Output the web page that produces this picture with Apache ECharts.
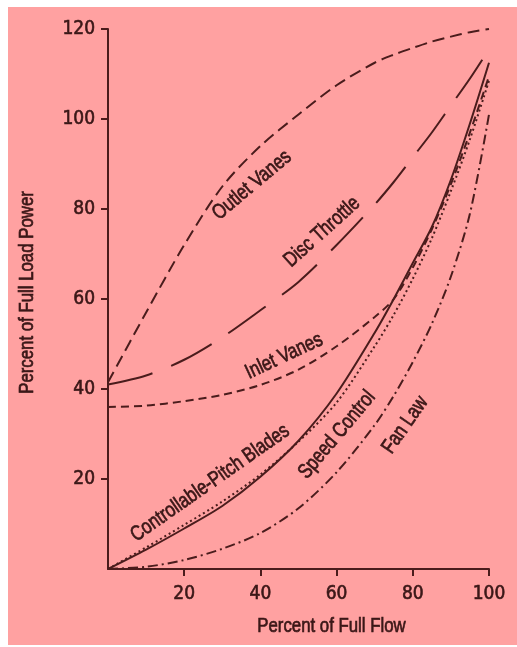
<!DOCTYPE html>
<html><head><meta charset="utf-8">
<script src="https://cdn.jsdelivr.net/npm/echarts@6/dist/echarts.min.js"></script>
<style>
html,body{margin:0;padding:0;background:#ffffff;width:517px;height:647px;overflow:hidden;}
#c{position:absolute;left:8px;top:7px;width:509px;height:638px;}
</style>
</head><body><div id="c"></div>
<script>
// ---- data ----
const flow = [0, 10, 20, 30, 40, 50, 60, 70, 75, 80, 85, 90, 95, 100];
const outletVanes   = [41.5, 57, 72, 85, 94, 101, 107.5, 112.5, 114.3, 115.8, 117.2, 118.3, 119.3, 120];
const discThrottle  = [41, 43, 46.5, 51.5, 57.5, 63.8, 72, 81, 86, 91.5, 97, 103, 109, 115.5];
const inletVanes    = [36, 36.3, 37.3, 38.7, 40.9, 44.3, 49.5, 56, 60, 67, 75.5, 85.5, 97, 109.5];
const pitchBlades   = [0, 4.3, 9, 14, 20.5, 28.5, 39, 52.5, 60, 68, 76, 86.5, 99, 112.5];
const speedControl  = [0, 4.8, 9.8, 15, 21, 28.3, 37, 49.5, 56.5, 64.5, 73.5, 84, 95.5, 108.5];
const fanLaw        = [0, 0.5, 2, 4.5, 8, 13.5, 21.5, 32, 38.5, 46, 54.5, 65, 79, 101];
const xTicks = [20, 40, 60, 80, 100];
const yTicks = [20, 40, 60, 80, 100, 120];
const xName = 'Percent of Full Flow';
const yName = 'Percent of Full Load Power';
const curveNames = ['Outlet Vanes', 'Disc Throttle', 'Inlet Vanes', 'Controllable-Pitch Blades', 'Speed Control', 'Fan Law'];
const labelAt = [[37.8, 85.3], [56.2, 74.9], [46.2, 47.3], [26.8, 19.1], [60.1, 29.8], [78, 32]];

// ---- style ----
const PINK = '#FFA1A1';
const INK = '#4a1c1c';
const TXT = '#3a1717';
const AXFONT = "'DejaVu Sans Condensed', sans-serif";
const TFONT = "'Liberation Sans', Arial, sans-serif";
const NARROW = 0.8;
const labelAngles = [40, 42, 25, 35, 50, 55];
const dashes = [[12, 6], [46, 20], [8, 5], 'solid', [2, 3], [10, 4, 2, 4]];

const seriesData = [outletVanes, discThrottle, inletVanes, pitchBlades, speedControl, fanLaw];
const pair = arr => flow.map((x, i) => [x, arr[i]]);

const chart = echarts.init(document.getElementById('c'), null, {renderer: 'canvas'});
const axisLabelStyle = {color: TXT, fontSize: 19, fontFamily: AXFONT, textBorderColor: TXT, textBorderWidth: 0.6};
const option = {
  backgroundColor: PINK,
  animation: false,
  grid: {left: 100, top: 22, right: 28, bottom: 76},
  xAxis: {
    type: 'value', min: 0, max: 100,
    axisLine: {show: true, onZero: false, lineStyle: {color: INK, width: 2}},
    axisTick: {show: true, length: 7, customValues: xTicks, lineStyle: {color: INK, width: 2}},
    axisLabel: Object.assign({customValues: xTicks, margin: 16}, axisLabelStyle),
    splitLine: {show: false}
  },
  yAxis: {
    type: 'value', min: 0, max: 120,
    axisLine: {show: true, onZero: false, lineStyle: {color: INK, width: 2}},
    axisTick: {show: true, length: 7, customValues: yTicks, lineStyle: {color: INK, width: 2}},
    axisLabel: Object.assign({customValues: yTicks, margin: 13}, axisLabelStyle),
    splitLine: {show: false}
  },
  series: seriesData.map((arr, i) => ({
    name: curveNames[i],
    type: 'line',
    data: pair(arr),
    smooth: 0.3,
    showSymbol: false,
    symbol: 'none',
    lineStyle: {color: INK, width: 2, type: dashes[i]}
  }))
};
chart.setOption(option);

function txt(text, x, y, deg, size) {
  return {
    type: 'text', x: x, y: y, rotation: deg * Math.PI / 180, scaleX: NARROW,
    style: {text: text, font: size + 'px ' + TFONT, fill: TXT, stroke: TXT, lineWidth: 0.7,
            textAlign: 'center', textVerticalAlign: 'middle', align: 'center', verticalAlign: 'middle'}
  };
}
const graphics = curveNames.map((name, i) => {
  const p = chart.convertToPixel({gridIndex: 0}, labelAt[i]);
  return txt(name, p[0], p[1], labelAngles[i], 21);
});
graphics.push(txt(xName, 323.5, 619, 0, 21));
graphics.push(txt(yName, 19, 285.5, 90, 21));
chart.setOption({graphic: {elements: graphics}});
</script>
</body></html>
